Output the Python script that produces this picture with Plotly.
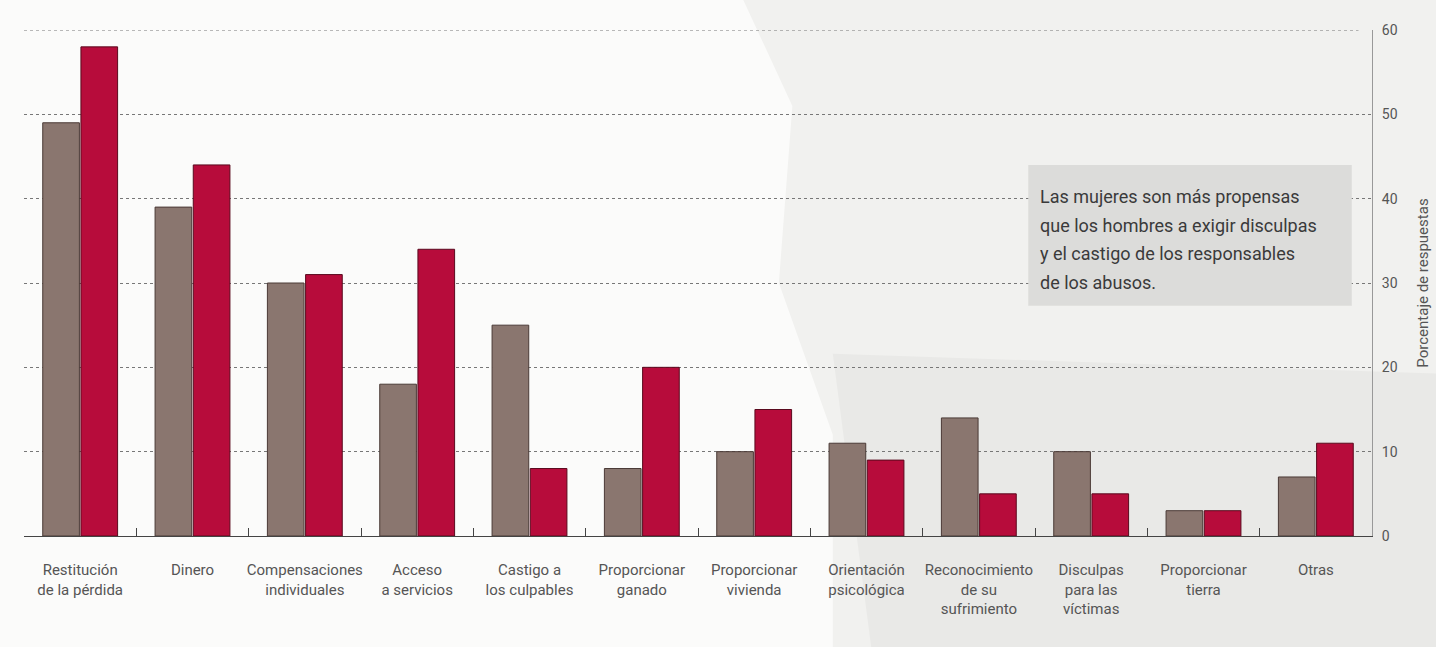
import plotly.graph_objects as go

categories = [
    "Restitución<br>de la pérdida",
    "Dinero",
    "Compensaciones<br>individuales",
    "Acceso<br>a servicios",
    "Castigo a<br>los culpables",
    "Proporcionar<br>ganado",
    "Proporcionar<br>vivienda",
    "Orientación<br>psicológica",
    "Reconocimiento<br>de su<br>sufrimiento",
    "Disculpas<br>para las<br>víctimas",
    "Proporcionar<br>tierra",
    "Otras",
]
hombres = [49, 39, 30, 18, 25, 8, 10, 11, 14, 10, 3, 7]
mujeres = [58, 44, 31, 34, 8, 20, 15, 9, 5, 5, 3, 11]
y_ticks = [0, 10, 20, 30, 40, 50, 60]
note_lines = [
    "Las mujeres son más propensas",
    "que los hombres a exigir disculpas",
    "y el castigo de los responsables",
    "de los abusos.",
]
y_title = "Porcentaje de respuestas"

font_fam = "Roboto, Liberation Sans, sans-serif"

fig = go.Figure()
fig.add_trace(go.Bar(x=categories, y=hombres, name="Hombres",
                     marker=dict(color="#8a766f", line=dict(color="#4a3a36", width=1))))
fig.add_trace(go.Bar(x=categories, y=mujeres, name="Mujeres",
                     marker=dict(color="#b70c3b", line=dict(color="#5a0a1e", width=1))))

# faded background areas
fig.add_shape(type="path", xref="paper", yref="paper", layer="below",
              path="M 0.53 1.08 L 1.06 1.08 L 1.06 -0.25 L 0.6 -0.25 L 0.6 0.2 L 0.56 0.5 L 0.57 0.85 Z",
              fillcolor="#f1f1ef", line=dict(width=0))
fig.add_shape(type="path", xref="paper", yref="paper", layer="below",
              path="M 0.6 0.36 L 1.06 0.32 L 1.06 -0.25 L 0.63 -0.25 Z",
              fillcolor="#e9e9e7", line=dict(width=0))

# dotted top gridline at the top of the range
fig.add_shape(type="line", xref="paper", yref="y", x0=0, x1=0.99, y0=60, y1=60,
              line=dict(color="#777777", width=1, dash="dot"), layer="below")

# note box (drawn over the gridlines)
fig.add_shape(type="rect", xref="paper", yref="y", x0=0.745, x1=0.985, y0=27.3, y1=44.0,
              fillcolor="#dcdcda", line=dict(width=0), layer="above")
for i, line in enumerate(note_lines):
    fig.add_annotation(xref="paper", yref="y", x=0.752, y=40.2 - i * 3.37,
                       xanchor="left", yanchor="middle", text=line, showarrow=False,
                       align="left", font=dict(family=font_fam, size=18, color="#3a3a3a"))

fig.update_layout(
    width=1436, height=647,
    margin=dict(l=24, r=64, t=30, b=111, autoexpand=False),
    paper_bgcolor="#fbfbfa", plot_bgcolor="rgba(0,0,0,0)",
    barmode="group", bargap=0.32, bargroupgap=0.04,
    showlegend=False,
    font=dict(family=font_fam, color="#555555"),
)
fig.update_xaxes(showline=True, linecolor="#444444", linewidth=1,
                 ticks="inside", tickson="boundaries", ticklen=8, tickcolor="#444444",
                 tickfont=dict(size=15, color="#555555"), ticklabelstandoff=20,
                 tickangle=0, automargin=False, showgrid=False)
fig.update_yaxes(side="right", range=[0, 60], tickvals=y_ticks, automargin=False,
                 showgrid=True, gridcolor="#777777", griddash="dot", gridwidth=1,
                 showline=True, linecolor="#999999", linewidth=1, zeroline=False,
                 tickfont=dict(size=14, color="#555555"), ticklabelstandoff=6,
                 title=dict(text=y_title, font=dict(size=15, color="#555555"), standoff=20))

fig.write_html("out.html", config={"displayModeBar": False},
               post_script="document.body.style.margin='0';")
